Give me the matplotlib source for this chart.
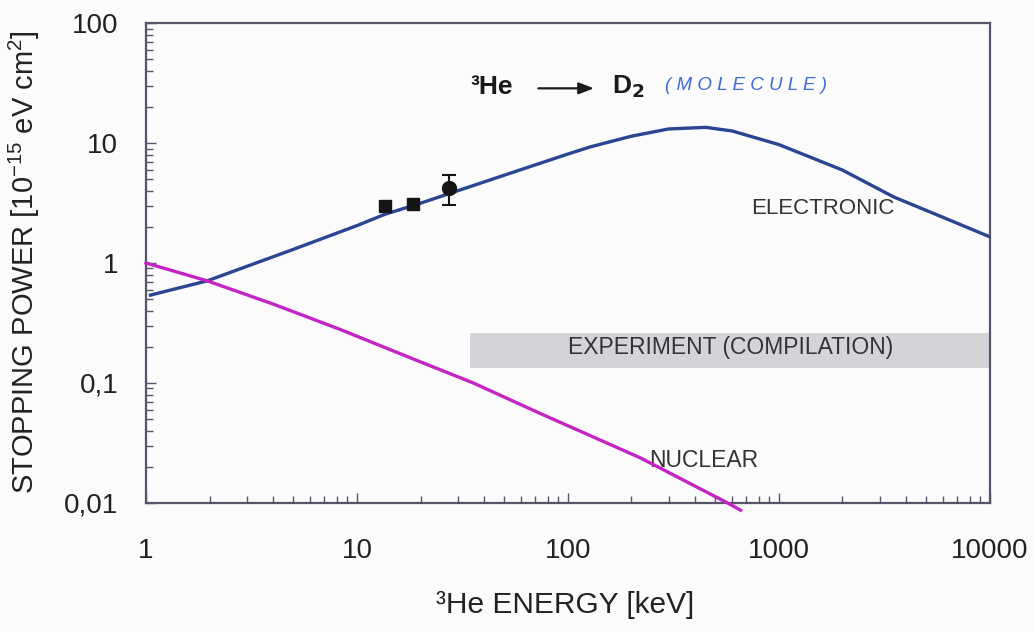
import matplotlib
matplotlib.use("Agg")
import matplotlib.pyplot as plt
from matplotlib.ticker import LogLocator, FixedLocator, FixedFormatter, NullFormatter

# ---- data ----
elec_E = [1.05, 1.95, 5, 10, 13.6, 20, 30, 50, 100, 128, 200, 300, 450, 600, 1000, 2000, 3500, 6000, 10000]
elec_S = [0.54, 0.71, 1.30, 2.05, 2.55, 3.15, 4.0, 5.4, 8.1, 9.3, 11.4, 13.1, 13.5, 12.6, 9.7, 5.95, 3.55, 2.4, 1.65]

nucl_E = [1.0, 1.95, 4.0, 8.3, 17.3, 35.6, 74, 128, 221, 571, 658]
nucl_S = [1.0, 0.71, 0.455, 0.28, 0.166, 0.10, 0.0556, 0.0363, 0.0237, 0.010, 0.0087]

exp_sq_E = [13.6, 18.5]
exp_sq_S = [2.96, 3.10]
exp_c_E = [27.4]
exp_c_S = [4.2]
exp_c_lo = [3.02]
exp_c_hi = [5.37]

band_E = [34.5, 10000]
band_S = [0.133, 0.261]

x_ticks = [1, 10, 100, 1000, 10000]
x_labels = ["1", "10", "100", "1000", "10000"]
y_ticks = [0.01, 0.1, 1, 10, 100]
y_labels = ["0,01", "0,1", "1", "10", "100"]

plt.rcParams['font.family'] = ['Liberation Sans', 'DejaVu Sans']

fig = plt.figure(figsize=(10.34, 6.31), dpi=100)
fig.patch.set_facecolor('#fbfbfb')
ax = fig.add_axes([0.1412, 0.2029, 0.8162, 0.7606])
ax.set_facecolor('#fbfbfb')
ax.set_xscale('log')
ax.set_yscale('log')
ax.set_xlim(1, 10000)
ax.set_ylim(0.01, 100)

frame_col = '#55556a'
for s in ax.spines.values():
    s.set_color(frame_col)
    s.set_linewidth(1.6)

ax.xaxis.set_major_locator(FixedLocator(x_ticks))
ax.xaxis.set_major_formatter(FixedFormatter(x_labels))
ax.yaxis.set_major_locator(FixedLocator(y_ticks))
ax.yaxis.set_major_formatter(FixedFormatter(y_labels))
ax.xaxis.set_minor_locator(LogLocator(base=10, subs=range(2, 10)))
ax.yaxis.set_minor_locator(LogLocator(base=10, subs=range(2, 10)))
ax.xaxis.set_minor_formatter(NullFormatter())
ax.yaxis.set_minor_formatter(NullFormatter())
ax.tick_params(axis='both', which='both', direction='in', colors=frame_col,
               top=False, right=False)
ax.tick_params(axis='both', which='major', length=7, width=1.0, labelsize=20,
               labelcolor='#222222')
ax.tick_params(axis='both', which='minor', length=5, width=1.0)
ax.tick_params(axis='x', which='major', pad=25)
ax.tick_params(axis='y', which='major', pad=20)

# gray experiment band
ax.fill_between(band_E, band_S[0], band_S[1], color='#d4d4d8', lw=0, zorder=1)
ax.text(590, 0.196, "EXPERIMENT (COMPILATION)", fontsize=16.5,
        color='#333333', ha='center', va='center', zorder=3)

# curves
ax.plot(elec_E, elec_S, color='#2a4592', lw=2.4, zorder=4)
ax.plot(nucl_E, nucl_S, color='#c424c4', lw=2.4, zorder=4, clip_on=False)

# experimental points
ax.plot(exp_sq_E, exp_sq_S, 's', color='#151515', ms=9, zorder=5)
ax.errorbar(exp_c_E, exp_c_S,
            yerr=[[exp_c_S[0] - exp_c_lo[0]], [exp_c_hi[0] - exp_c_S[0]]],
            fmt='o', color='#151515', ms=10, capsize=5, elinewidth=1.5,
            capthick=1.5, zorder=5)

ax.text(1614, 2.87, "ELECTRONIC", fontsize=16, color='#333333',
        ha='center', va='center')
ax.text(440, 0.0228, "NUCLEAR", fontsize=16.5, color='#333333',
        ha='center', va='center')

# title line
fig.text(0.455, 0.862, "³He", fontsize=19, fontweight='bold', color='#1a1a1a',
         ha='left', va='center')
ax.annotate("", xy=(0.577, 0.860), xytext=(0.518, 0.860),
            xycoords='figure fraction', textcoords='figure fraction',
            arrowprops=dict(arrowstyle='-|>,head_length=0.9,head_width=0.35',
                            color='#1a1a1a', lw=1.6))
fig.text(0.592, 0.862, r"D$_\mathbf{2}$", fontsize=19, fontweight='bold',
         color='#1a1a1a', ha='left', va='center')
fig.text(0.643, 0.864, "( M O L E C U L E )", fontsize=13.5, fontstyle='italic',
         color='#3f6ad8', ha='left', va='center')

fig.text(0.024, 0.585, r"STOPPING POWER [10$^{\mathregular{-15}}$ eV cm$^{\mathregular{2}}$]",
         rotation=90, fontsize=21, color='#222222', ha='center', va='center')
fig.text(0.547, 0.041, "³He ENERGY [keV]", fontsize=21.5, color='#222222',
         ha='center', va='center')

fig.savefig("out.png", dpi=100, facecolor=fig.get_facecolor())
